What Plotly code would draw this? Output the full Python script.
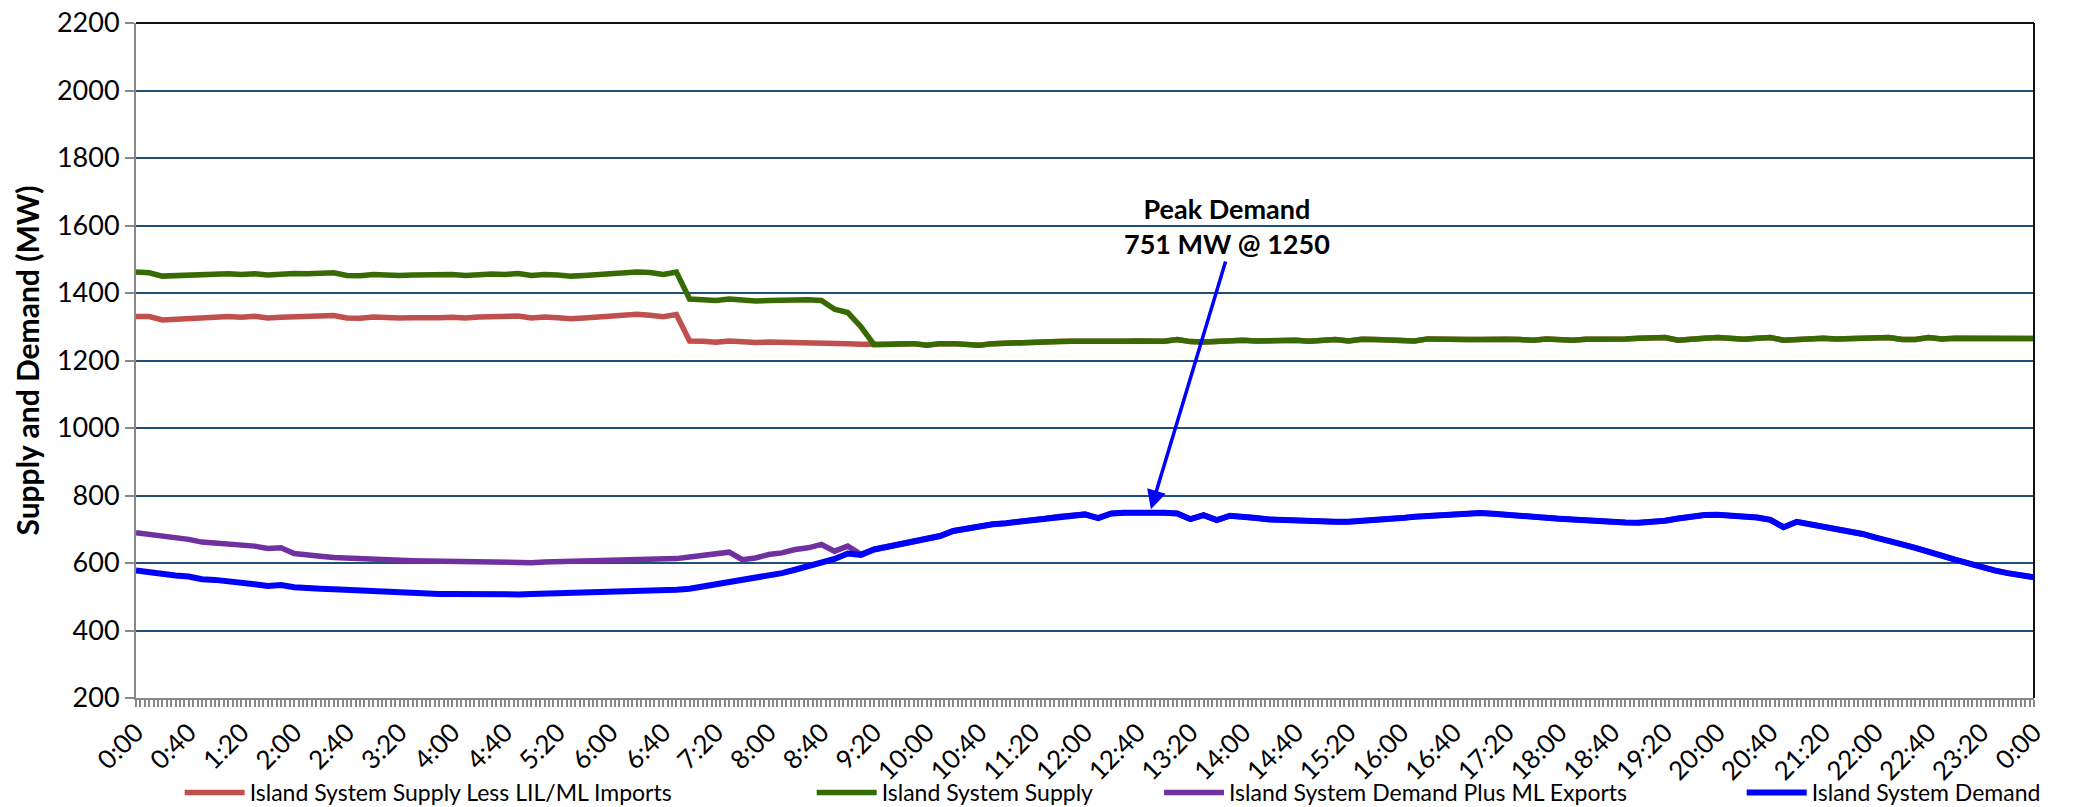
import plotly.graph_objects as go

# ---- data (10-minute readings, 0:00 .. 24:00) ----
minutes = [10 * i for i in range(145)]

supply = [
    1462, 1460, 1450, 1452, 1450, 1455,
    1456, 1457, 1455, 1457, 1453, 1456,
    1458, 1457, 1458, 1460, 1452, 1451,
    1455, 1452, 1452, 1453, 1455, 1453,
    1455, 1452, 1455, 1456, 1455, 1458,
    1452, 1455, 1453, 1450, 1452, 1455,
    1460, 1461, 1462, 1461, 1455, 1462,
    1382, 1380, 1378, 1382, 1378, 1376,
    1378, 1380, 1379, 1380, 1378, 1352,
    1342, 1300, 1247, 1248, 1250, 1250,
    1245, 1250, 1250, 1249, 1245, 1250,
    1252, 1252, 1256, 1258, 1256, 1257,
    1256, 1257, 1255, 1257, 1258, 1256,
    1257, 1262, 1256, 1255, 1258, 1257,
    1260, 1258, 1260, 1258, 1260, 1257,
    1260, 1262, 1258, 1263, 1262, 1260,
    1262, 1258, 1264, 1262, 1264, 1262,
    1262, 1264, 1263, 1262, 1260, 1264,
    1262, 1260, 1263, 1262, 1265, 1264,
    1266, 1267, 1268, 1260, 1265, 1266,
    1268, 1265, 1263, 1266, 1268, 1260,
    1262, 1265, 1266, 1264, 1266, 1265,
    1267, 1268, 1262, 1262, 1268, 1264,
    1266, 1266, 1262, 1266, 1265, 1262,
    1265,
]

supply_less_imports = [
    1330, 1330, 1320, 1323, 1322, 1326,
    1328, 1330, 1328, 1331, 1326, 1328,
    1330, 1329, 1331, 1333, 1326, 1325,
    1329, 1326, 1326, 1327, 1329, 1327,
    1328, 1326, 1329, 1330, 1328, 1332,
    1326, 1329, 1327, 1324, 1326, 1329,
    1333, 1335, 1337, 1334, 1330, 1336,
    1258, 1257, 1254, 1258, 1255, 1253,
    1255, 1254, 1256, 1256, 1255, 1254,
    1250, 1248, 1247, 1248, 1250, 1250,
    1245, 1250, 1250, 1249, 1245, 1250,
    1252, 1252, 1256, 1258, 1256, 1257,
    1256, 1257, 1255, 1257, 1258, 1256,
    1257, 1262, 1256, 1255, 1258, 1257,
    1260, 1258, 1260, 1258, 1260, 1257,
    1260, 1262, 1258, 1263, 1262, 1260,
    1262, 1258, 1264, 1262, 1264, 1262,
    1262, 1264, 1263, 1262, 1260, 1264,
    1262, 1260, 1263, 1262, 1265, 1264,
    1266, 1267, 1268, 1260, 1265, 1266,
    1268, 1265, 1263, 1266, 1268, 1260,
    1262, 1265, 1266, 1264, 1266, 1265,
    1267, 1268, 1262, 1262, 1268, 1264,
    1266, 1266, 1262, 1266, 1265, 1262,
    1265,
]

demand = [
    578, 572, 570, 563, 560, 552,
    550, 547, 542, 537, 532, 535,
    528, 528, 524, 522, 520, 518,
    515, 513, 512, 512, 510, 508,
    508, 507, 507, 506, 506, 507,
    508, 509, 510, 511, 511, 512,
    514, 516, 518, 518, 519, 521,
    524, 530, 537, 542, 548, 555,
    560, 570, 580, 590, 600, 612,
    628, 624, 640, 648, 656, 662,
    670, 680, 695, 703, 710, 715,
    718, 722, 727, 732, 738, 742,
    744, 733, 747, 749, 750, 751,
    749, 747, 730, 742, 727, 740,
    738, 733, 729, 727, 725, 724,
    723, 722, 722, 724, 726, 730,
    733, 737, 740, 742, 745, 747,
    748, 746, 744, 741, 738, 734,
    731, 728, 725, 722, 721, 720,
    719, 720, 725, 732, 738, 742,
    743, 741, 738, 735, 728, 706,
    722, 715, 708, 698, 692, 686,
    675, 663, 655, 645, 635, 622,
    610, 598, 588, 578, 570, 565,
    558,
]

demand_plus_exports = [
    690, 685, 683, 675, 670, 662,
    660, 657, 654, 650, 643, 645,
    628, 622, 620, 616, 614, 612,
    610, 610, 606, 607, 606, 605,
    603, 602, 602, 600, 600, 600,
    601, 603, 604, 603, 605, 604,
    606, 608, 610, 612, 612, 613,
    618, 622, 630, 632, 610, 615,
    625, 630, 640, 645, 655, 635,
    650, 626, 640, 648, 656, 662,
    670, 680, 695, 703, 710, 715,
    718, 722, 727, 732, 738, 742,
    744, 733, 747, 749, 750, 751,
    749, 747, 730, 742, 727, 740,
    738, 733, 729, 727, 725, 724,
    723, 722, 722, 724, 726, 730,
    733, 737, 740, 742, 745, 747,
    748, 746, 744, 741, 738, 734,
    731, 728, 725, 722, 721, 720,
    719, 720, 725, 732, 738, 742,
    743, 741, 738, 735, 728, 706,
    722, 715, 708, 698, 692, 686,
    675, 663, 655, 645, 635, 622,
    610, 598, 588, 578, 570, 565,
    558,
]

tick_minutes = list(range(0, 1441, 40))
tick_labels = [f"{(m // 60) % 24}:{m % 60:02d}" for m in tick_minutes]

peak_minute = 770
peak_value = 751
peak_text = "Peak Demand<br>751 MW @ 1250"

FONT = "Lato"

series = [
    ("Island System Supply Less LIL/ML Imports", supply_less_imports, "#C0504D", 5.5, "legend"),
    ("Island System Supply", supply, "#386A04", 5.5, "legend2"),
    ("Island System Demand Plus ML Exports", demand_plus_exports, "#7030A0", 5.5, "legend3"),
    ("Island System Demand", demand, "#0000FF", 6, "legend4"),
]

fig = go.Figure()
for name, vals, color, w, lg in series:
    fig.add_trace(go.Scatter(
        x=minutes, y=vals, mode="lines", name=name,
        line=dict(color=color, width=w), legend=lg,
    ))

legend_common = dict(
    orientation="h", yanchor="middle", y=-0.140, xanchor="left",
    font=dict(family=FONT, size=23, color="#000000"),
    bgcolor="rgba(0,0,0,0)", itemwidth=60,
)
fig.update_layout(
    legend=dict(x=0.023, **legend_common),
    legend2=dict(x=0.356, **legend_common),
    legend3=dict(x=0.539, **legend_common),
    legend4=dict(x=0.846, **legend_common),
)

fig.update_layout(
    width=2078, height=807,
    margin=dict(l=136, r=44, t=23, b=109, autoexpand=False),
    paper_bgcolor="white", plot_bgcolor="white",
    font=dict(family=FONT, size=26, color="#000000"),
    showlegend=True,
)

fig.update_xaxes(
    range=[0, 1440], tickmode="array", tickvals=tick_minutes, ticktext=tick_labels,
    tickangle=-45, tickfont=dict(family=FONT, size=26), automargin=False,
    ticklabeloverflow="allow",
    showgrid=False, zeroline=False,
    showline=True, linecolor="#888888", linewidth=2,
    ticks="outside", ticklen=7, tickcolor="#888888", tickwidth=1.5,
    minor=dict(ticks="outside", ticklen=7, tickcolor="#888888", tickwidth=1.5,
               tickmode="linear", tick0=0, dtick=40 / 12, showgrid=False),
)
fig.update_yaxes(
    range=[200, 2200], tickmode="linear", dtick=200, tick0=200, automargin=False,
    ticklabeloverflow="allow",
    tickfont=dict(family=FONT, size=27),
    showgrid=True, gridcolor="#1F4E79", gridwidth=1.5,
    zeroline=False, showline=True, linecolor="#888888", linewidth=2,
    ticks="outside", ticklen=9, tickcolor="#888888", tickwidth=1.5,
    ticklabelstandoff=0,
    title=dict(text="<b>Supply and Demand (MW)</b>", font=dict(family=FONT, size=30), standoff=8),
)

# plot-area border on top and right
fig.add_shape(type="line", xref="paper", yref="paper", x0=0, x1=1, y0=1, y1=1,
              line=dict(color="#111111", width=2))
fig.add_shape(type="line", xref="paper", yref="paper", x0=1, x1=1, y0=0, y1=1,
              line=dict(color="#111111", width=2))

fig.add_annotation(
    x=peak_minute, y=peak_value + 8, xref="x", yref="y",
    ax=827, ay=1498, axref="x", ayref="y",
    showarrow=True, arrowhead=2, arrowsize=1.1, arrowwidth=3.5, arrowcolor="#0000FF",
    text="",
)
fig.add_annotation(
    x=828, y=1598, xref="x", yref="y", showarrow=False,
    text="<b>" + peak_text + "</b>",
    font=dict(family=FONT, size=27, color="#000000"), align="center",
)

# remove the browser's default 8 px page margin so the figure fills the window
fig.write_html(
    "out.html",
    config={"displayModeBar": False},
    post_script="document.body.style.margin='0';document.body.style.overflow='hidden';",
)
